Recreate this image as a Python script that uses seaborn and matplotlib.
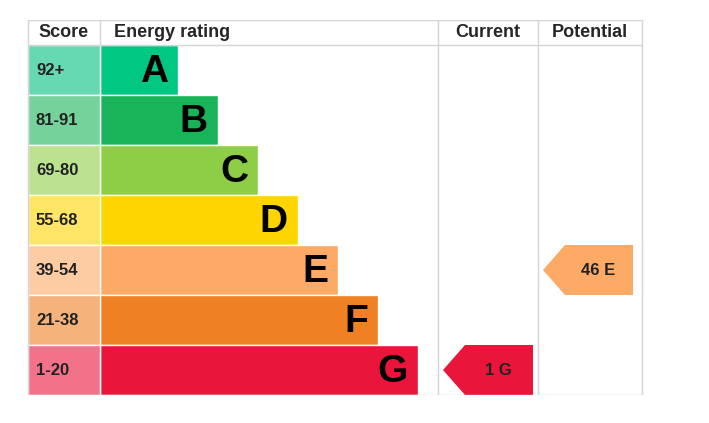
import matplotlib
matplotlib.use("Agg")
import matplotlib.pyplot as plt
import seaborn as sns
import pandas as pd
from matplotlib.patches import Polygon

bands = ["A", "B", "C", "D", "E", "F", "G"]
scores = ["92+", "81-91", "69-80", "55-68", "39-54", "21-38", "1-20"]
bar_len = [78, 118, 158, 198, 238, 278, 318]
bar_colors = ["#00c781", "#19b459", "#8dce46", "#ffd500", "#fcaa65", "#ef8023", "#e9153b"]
score_colors = ["#66d9b3", "#75d29b", "#bbe290", "#ffe566", "#fdcca3", "#f5b37b", "#f27389"]
current_score, current_band = 1, "G"
potential_score, potential_band = 46, "E"
headers = ["Score", "Energy rating", "Current", "Potential"]

df = pd.DataFrame({"band": bands, "len": bar_len})

sns.set_style("white")
plt.rcParams['font.family'] = ['Liberation Sans', 'DejaVu Sans']

fig = plt.figure(figsize=(7.09, 4.23), dpi=100)
ax = fig.add_axes([0, 28 / 423, 1, 375 / 423])
sns.barplot(data=df, x="len", y="band", hue="band", palette=bar_colors, orient="h",
            width=1.0, legend=False, ax=ax, saturation=1)
ax.barh(range(7), 72, left=-72, height=1.0, color=score_colors)
ax.set_xlim(-100, 609)
ax.set_ylim(6.5, -1.0)
ax.axis("off")

# grid lines
lc = "#d4d4d4"
for x in [-72, 338, 438, 542]:
    ax.plot([x, x], [-1.0, 6.5], color=lc, lw=1)
ax.plot([0, 0], [-1.0, -0.5], color=lc, lw=1)
for y in [-1.0, -0.5, 6.5]:
    ax.plot([-72, 542], [y, y], color=lc, lw=1)

# headers
ax.text(-36, -0.75, headers[0], ha="center", va="center", fontsize=13, fontweight="bold")
ax.text(14, -0.75, headers[1], ha="left", va="center", fontsize=13, fontweight="bold")
ax.text(388, -0.75, headers[2], ha="center", va="center", fontsize=13, fontweight="bold")
ax.text(490, -0.75, headers[3], ha="center", va="center", fontsize=13, fontweight="bold")

for i, (b, s, l) in enumerate(zip(bands, scores, bar_len)):
    ax.text(-64, i, s, ha="left", va="center", fontsize=12, fontweight="bold", color="#222222")
    ax.text(l - 10, i + 0.03, b, ha="right", va="center", fontsize=28, fontweight="bold", color="black")


def arrow(x0, x1, row, label, color):
    pts = [(x0, row), (x0 + 22, row - 0.5), (x1, row - 0.5), (x1, row + 0.5), (x0 + 22, row + 0.5)]
    ax.add_patch(Polygon(pts, closed=True, color=color, lw=0))
    ax.text((x0 + x1) / 2 + 10, row, label, ha="center", va="center", fontsize=12,
            fontweight="bold", color="#222222")


ci = bands.index(current_band)
arrow(343, 433, ci, f"{current_score} {current_band}", bar_colors[ci])
pi = bands.index(potential_band)
arrow(443, 533, pi, f"{potential_score} {potential_band}", bar_colors[pi])

fig.savefig("out.png", dpi=100)
